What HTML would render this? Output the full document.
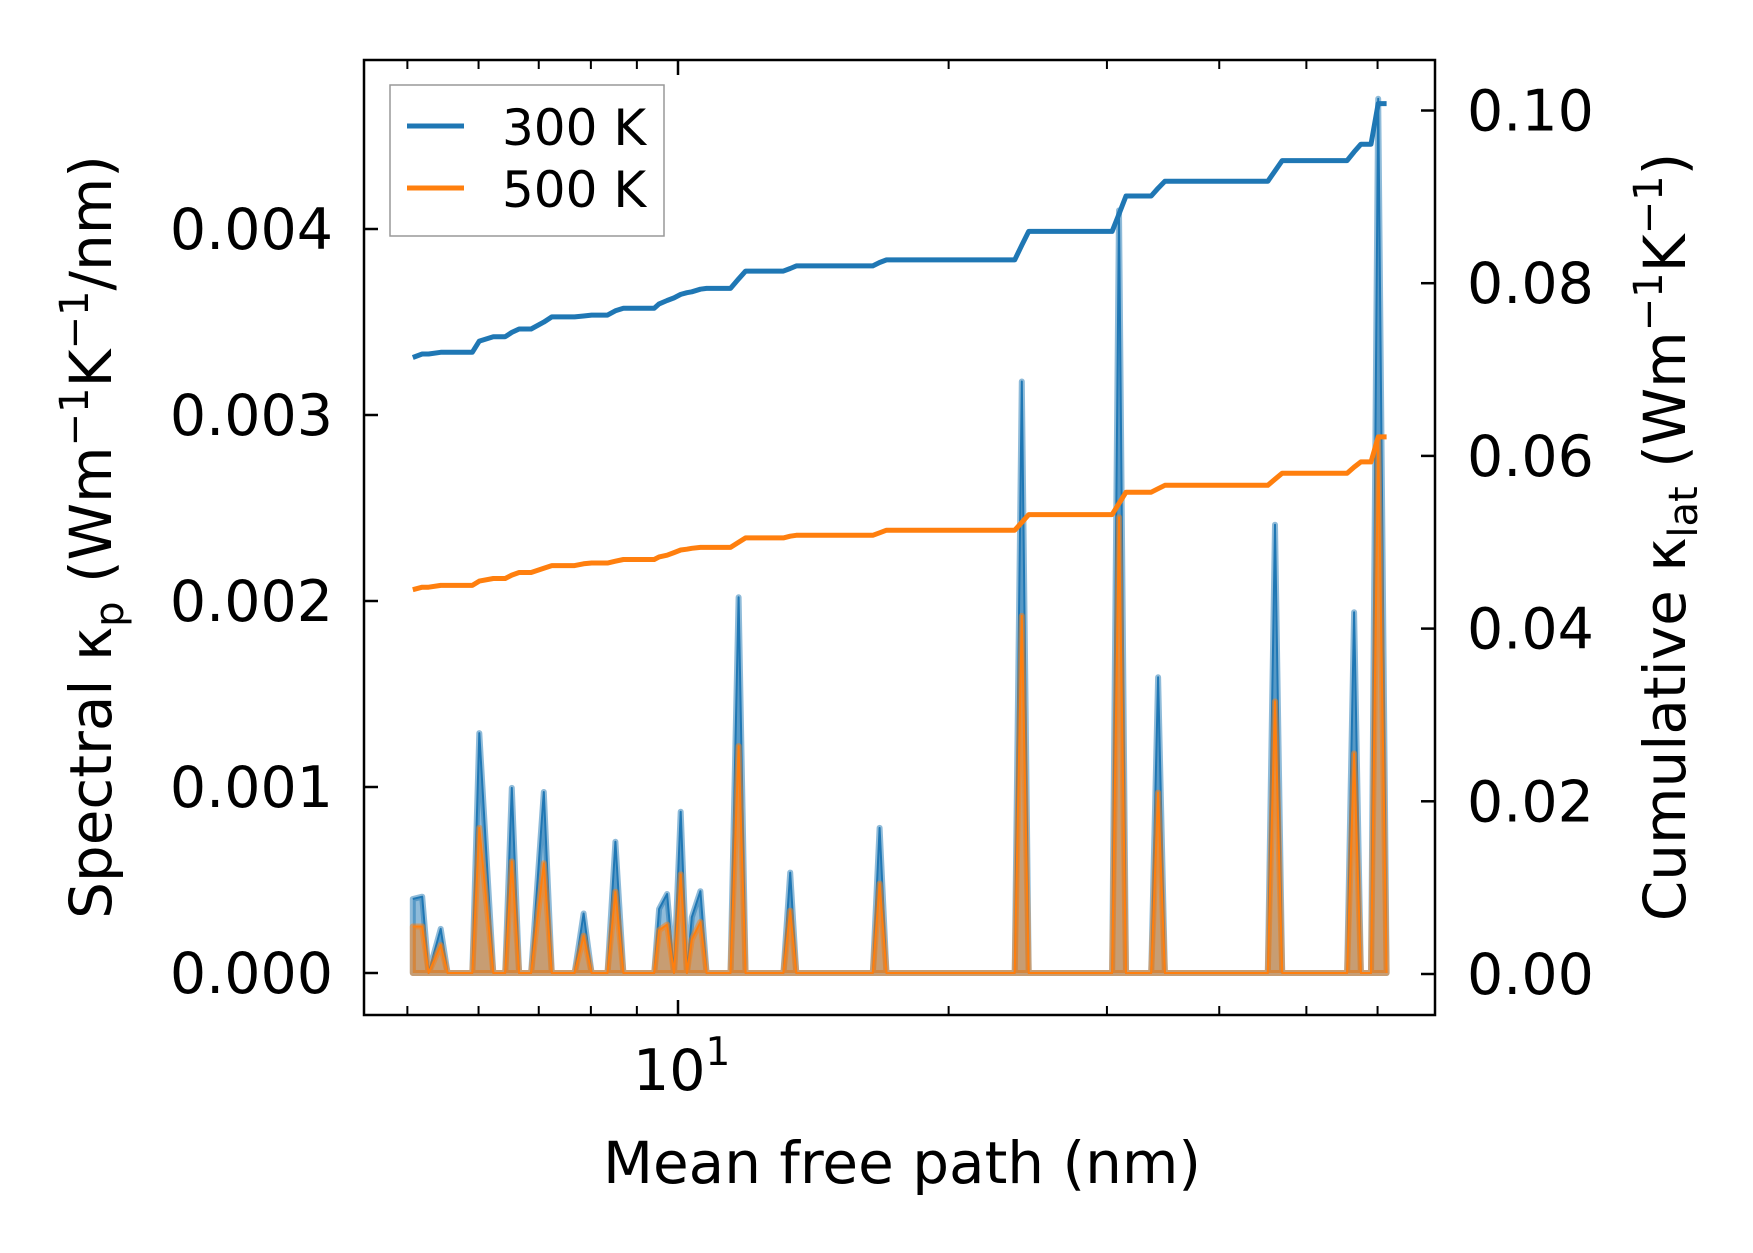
<!DOCTYPE html>
<html><head><meta charset="utf-8"><style>
html,body{margin:0;padding:0;background:#fff}
svg{display:block}
text{font-family:"DejaVu Sans","Liberation Sans",sans-serif;fill:#000}
</style></head><body>
<svg id="chart" width="1753" height="1253" viewBox="0 0 1753 1253" xmlns="http://www.w3.org/2000/svg">
<rect x="0" y="0" width="1753" height="1253" fill="#fff"/>
<g id="marks"></g>
<g id="axes"></g>
<rect x="364" y="60" width="1071" height="955" fill="none" stroke="#000" stroke-width="2.5"/>
<g>
  <rect x="390" y="85" width="274" height="151" fill="#fff" fill-opacity="0.8" stroke="#999" stroke-width="1.5"/>
  <line x1="407" y1="126" x2="464" y2="126" stroke="#1f77b4" stroke-width="5"/>
  <text x="502" y="145" font-size="50">300 K</text>
  <line x1="407" y1="188" x2="464" y2="188" stroke="#ff7f0e" stroke-width="5"/>
  <text x="502" y="207" font-size="50">500 K</text>
</g>
<text x="902" y="1183" font-size="58" text-anchor="middle">Mean free path (nm)</text>
<text transform="translate(111,537) rotate(-90)" font-size="58" text-anchor="middle">Spectral κ<tspan font-size="40" dy="12">p</tspan><tspan dy="-12"> (Wm</tspan><tspan font-size="40" dy="-23">−1</tspan><tspan dy="23">K</tspan><tspan font-size="40" dy="-23">−1</tspan><tspan dy="23">/nm)</tspan></text>
<text transform="translate(1685,537) rotate(-90)" font-size="58" text-anchor="middle">Cumulative κ<tspan font-size="40" dy="12">lat</tspan><tspan dy="-12"> (Wm</tspan><tspan font-size="40" dy="-23">−1</tspan><tspan dy="23">K</tspan><tspan font-size="40" dy="-23">−1</tspan><tspan dy="23">)</tspan></text>
</svg>
<script>
const mfp = [5.07,5.194,5.28,5.445,5.543,5.904,6.012,6.231,6.424,6.534,6.657,6.864,7.091,7.238,7.674,7.853,8.015,8.348,8.519,8.694,9.408,9.528,9.724,9.899,10.07,10.23,10.36,10.59,10.76,11.44,11.68,11.89,13.1,13.33,13.54,16.47,16.76,17.06,23.69,24.12,24.55,30.4,30.94,31.5,33.6,34.2,34.8,45.3,46.14,47.0,55.5,56.5,57.5,59.0,60.1,61.4];
const spec300 = [0.000398,0.00041,0,0.000237,0,0,0.00129,0,0,0.000995,0,0,0.000973,0,0,0.00032,0,0,0.000706,0,0,0.000344,0.000425,0,0.000867,0,0.0003,0.00044,0,0,0.00202,0,0,0.00054,0,0,0.00078,0,0,0.00318,0,0,0.0041,0,0,0.00159,0,0,0.00241,0,0,0.00194,0,0,0.0047,0];
const spec500 = [0.00025,0.00025,0,0.00015,0,0,0.00078,0,0,0.0006,0,0,0.00059,0,0,0.0002,0,0,0.000437,0,0,0.00023,0.00026,0,0.00053,0,0.00018,0.000275,0,0,0.00122,0,0,0.000335,0,0,0.00048,0,0,0.00192,0,0,0.00245,0,0,0.00097,0,0,0.00146,0,0,0.00118,0,0,0.00287,0];
const cum300 = [0.0714,0.0718,0.0718,0.072,0.072,0.072,0.0733,0.0738,0.0738,0.0743,0.0747,0.0747,0.0755,0.0761,0.0761,0.0762,0.0763,0.0763,0.0768,0.0771,0.0771,0.0776,0.078,0.0783,0.0787,0.0789,0.079,0.0793,0.0794,0.0794,0.0805,0.0814,0.0814,0.0817,0.082,0.082,0.0824,0.0827,0.0827,0.0844,0.086,0.086,0.088,0.0901,0.0901,0.091,0.0918,0.0918,0.093,0.0942,0.0942,0.0952,0.0961,0.0961,0.1008,0.1008];
const cum500 = [0.0445,0.0448,0.0448,0.045,0.045,0.045,0.0455,0.0458,0.0458,0.0462,0.0465,0.0465,0.047,0.0473,0.0473,0.0475,0.0476,0.0476,0.0478,0.048,0.048,0.0483,0.0485,0.0488,0.0491,0.0492,0.0493,0.0494,0.0494,0.0494,0.05,0.0505,0.0505,0.0507,0.0508,0.0508,0.0511,0.0514,0.0514,0.0523,0.0532,0.0532,0.0545,0.0558,0.0558,0.0562,0.0566,0.0566,0.0573,0.058,0.058,0.0587,0.0593,0.0593,0.0622,0.0622];
const leftTicks = [0, 0.001, 0.002, 0.003, 0.004];
const leftTickLabels = ["0.000","0.001","0.002","0.003","0.004"];
const rightTicks = [0, 0.02, 0.04, 0.06, 0.08, 0.10];
const rightTickLabels = ["0.00","0.02","0.04","0.06","0.08","0.10"];
const xMinorTicks = [5,6,7,8,9,20,30,40,50,60];

const NS = "http://www.w3.org/2000/svg";
const X0 = 678, DEC = 899;
function xs(v){ return X0 + DEC*Math.log10(v/10); }
function yl(v){ return 973 - v*186000; }
function yr(v){ return 974 - v/0.02*172.7; }
function mk(tag, attrs, parent){ const e=document.createElementNS(NS,tag); for(const k in attrs) e.setAttribute(k,attrs[k]); parent.appendChild(e); return e; }
const marks = document.getElementById('marks');
const axes = document.getElementById('axes');

function specPaths(vals, color, name){
  let line = mfp.map((m,i)=>(i?'L':'M')+xs(m).toFixed(1)+','+yl(vals[i]).toFixed(1)).join(' ');
  let area = line + ' L'+xs(mfp[mfp.length-1]).toFixed(1)+','+yl(0)+' L'+xs(mfp[0]).toFixed(1)+','+yl(0)+' Z';
  const f = mk('path',{d:area,fill:color,'fill-opacity':0.5,stroke:color,'stroke-opacity':0.5,'stroke-width':6,'stroke-linejoin':'round'},marks);
  
  
  const l = mk('path',{d:line,fill:'none',stroke:color,'stroke-width':2,'stroke-linejoin':'round'},marks);
  
  
}
specPaths(spec300,'#1f77b4','spectral-300k');
specPaths(spec500,'#ff7f0e','spectral-500k');
function cumLine(vals,color,name){
  const d = mfp.map((m,i)=>(i?'L':'M')+xs(m).toFixed(1)+','+yr(vals[i]).toFixed(1)).join(' ');
  const p = mk('path',{d:d,fill:'none',stroke:color,'stroke-width':5,'stroke-linejoin':'round'},marks);
  
  
}
cumLine(cum300,'#1f77b4','cumulative-300k');
cumLine(cum500,'#ff7f0e','cumulative-500k');

leftTicks.forEach((v,i)=>{
  const y=yl(v);
  const t=mk('line',{x1:364,y1:y,x2:378,y2:y,stroke:'#000','stroke-width':2.5},axes);
  
  
  const tx=mk('text',{x:333,y:y+20,'font-size':57,'text-anchor':'end'},axes);
  tx.textContent=leftTickLabels[i];
  
  
});
rightTicks.forEach((v,i)=>{
  const y=yr(v);
  const t=mk('line',{x1:1421,y1:y,x2:1435,y2:y,stroke:'#000','stroke-width':2.5},axes);
  
  
  const tx=mk('text',{x:1467,y:y+20,'font-size':57},axes);
  tx.textContent=rightTickLabels[i];
  
  
});
xMinorTicks.forEach(v=>{
  const x=xs(v);
  const b=mk('line',{x1:x,y1:1015,x2:x,y2:1006,stroke:'#000','stroke-width':2},axes);
  
  
  const t=mk('line',{x1:x,y1:60,x2:x,y2:69,stroke:'#000','stroke-width':2},axes);
  
  
});
{
  const x=xs(10);
  const b=mk('line',{x1:x,y1:1015,x2:x,y2:1000,stroke:'#000','stroke-width':2.5},axes);
  
  
  const t=mk('line',{x1:x,y1:60,x2:x,y2:75,stroke:'#000','stroke-width':2.5},axes);
  
  
  const tx=mk('text',{x:x-45,y:1090,'font-size':57},axes);
  tx.innerHTML='10<tspan font-size="39" dy="-25">1</tspan>';
  
  
}
</script>
</body></html>
